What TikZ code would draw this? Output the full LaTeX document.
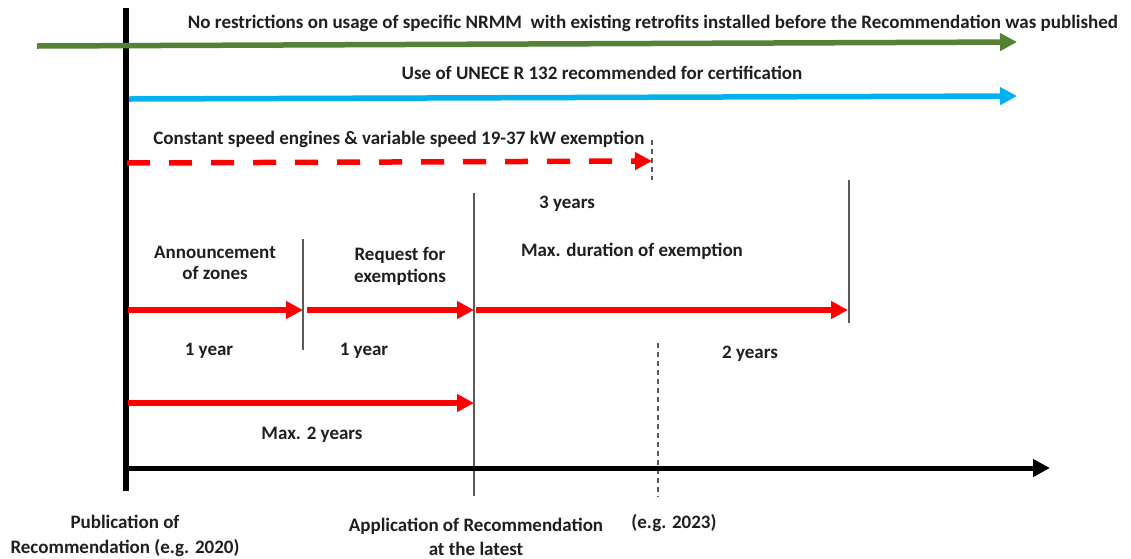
\documentclass[tikz,border=0pt]{standalone}
\usepackage{fontspec}
\setmainfont{Carlito}
\usetikzlibrary{arrows.meta}
\definecolor{grn}{RGB}{84,130,53}
\definecolor{sky}{RGB}{0,176,240}
\definecolor{gline}{RGB}{90,90,90}
\begin{document}
\begin{tikzpicture}[x=1pt,y=-1pt,
  lbl/.style={font=\fontsize{19}{23}\selectfont\bfseries, inner sep=0pt, align=center, text=black!88},
  tip/.style={-{Triangle[length=17pt,width=17pt]}},
  greenarrow/.style={draw=grn, line width=5.5pt, tip},
  bluearrow/.style={draw=sky, line width=5.5pt, tip},
  redarrow/.style={draw=red, line width=5.5pt, tip},
  reddash/.style={draw=red, line width=5.5pt, dash pattern=on 23pt off 19pt, tip},
  axisline/.style={draw=black, line width=5pt},
  marker/.style={draw=gline, line width=1.3pt},
  dashmarker/.style={draw=gline, line width=1.3pt, dash pattern=on 5pt off 4pt}
]
\useasboundingbox (0,0) rectangle (1131,558);
\fill[white] (0,0) rectangle (1131,558);

% coordinates
\coordinate (vtop) at (126,8);
\coordinate (vbot) at (126,491);
\coordinate (ax0) at (124,468);
\coordinate (ax1) at (1050,468);
\coordinate (g0) at (37,46);
\coordinate (g1) at (1017,42);
\coordinate (b0) at (129,99);
\coordinate (b1) at (1017,96);
\coordinate (d0) at (127,163);
\coordinate (d1) at (652,161);
\coordinate (m1t) at (652,140);
\coordinate (m1b) at (652,180);
\coordinate (m2t) at (474,193);
\coordinate (m2b) at (474,496);
\coordinate (m3t) at (303,239);
\coordinate (m3b) at (303,350);
\coordinate (m4t) at (849,180);
\coordinate (m4b) at (849,323);
\coordinate (m5t) at (658,343);
\coordinate (m5b) at (658,497);
\coordinate (r0) at (128,310);
\coordinate (r1) at (303,310);
\coordinate (r2) at (307,310);
\coordinate (r3) at (474,310);
\coordinate (r4) at (476,310);
\coordinate (r5) at (848,310);
\coordinate (s0) at (128,403);
\coordinate (s1) at (474,403);

% thin markers
\draw[marker] (m2t) -- (m2b);
\draw[marker] (m3t) -- (m3b);
\draw[marker] (m4t) -- (m4b);
\draw[dashmarker] (m1t) -- (m1b);
\draw[dashmarker] (m5t) -- (m5b);

% time axis
\draw[axisline, tip] (ax0) -- (ax1);
\draw[draw=black, line width=6pt] (vtop) -- (vbot);

% long arrows
\draw[greenarrow] (g0) -- (g1);
\draw[bluearrow] (b0) -- (b1);
\draw[reddash] (d0) -- (d1);

% red phase arrows
\draw[redarrow] (r0) -- (r1);
\draw[redarrow] (r2) -- (r3);
\draw[redarrow] (r4) -- (r5);
\draw[redarrow] (s0) -- (s1);

% labels
\node[lbl, anchor=base] (tNo) at (653,28.5) {No restrictions on usage of specific NRMM~ with existing retrofits installed before the Recommendation was published};
\node[lbl, anchor=base] (tUse) at (602,79.5) {Use of UNECE R 132 recommended for certification};
\node[lbl, anchor=base] (tCon) at (399,144.5) {Constant speed engines \& variable speed 19-37 kW exemption};
\node[lbl, anchor=base] (t3y) at (567,208.5) {3 years};
\node[lbl, anchor=north, font=\fontsize{19}{21.5}\selectfont\bfseries] (tAnn) at (215,245.5) {Announcement\\of zones};
\node[lbl, anchor=north, font=\fontsize{19}{22}\selectfont\bfseries] (tReq) at (400,247.5) {Request for\\exemptions};
\node[lbl, anchor=base] (tMax) at (632,256.5) {Max. duration of exemption};
\node[lbl, anchor=base] (t1a) at (209,355.5) {1 year};
\node[lbl, anchor=base] (t1b) at (364,355.5) {1 year};
\node[lbl, anchor=base] (t2y) at (750,358.5) {2 years};
\node[lbl, anchor=base] (tMax2) at (312,439.5) {Max. 2 years};
\node[lbl, anchor=north, font=\fontsize{19}{25}\selectfont\bfseries] (tPub) at (125,514.5) {Publication of\\Recommendation (e.g. 2020)};
\node[lbl, anchor=north, font=\fontsize{19}{24}\selectfont\bfseries] (tApp) at (476,517.5) {Application of Recommendation\\at the latest};
\node[lbl, anchor=base] (tEg) at (674,528.5) {(e.g. 2023)};
\end{tikzpicture}
\end{document}
